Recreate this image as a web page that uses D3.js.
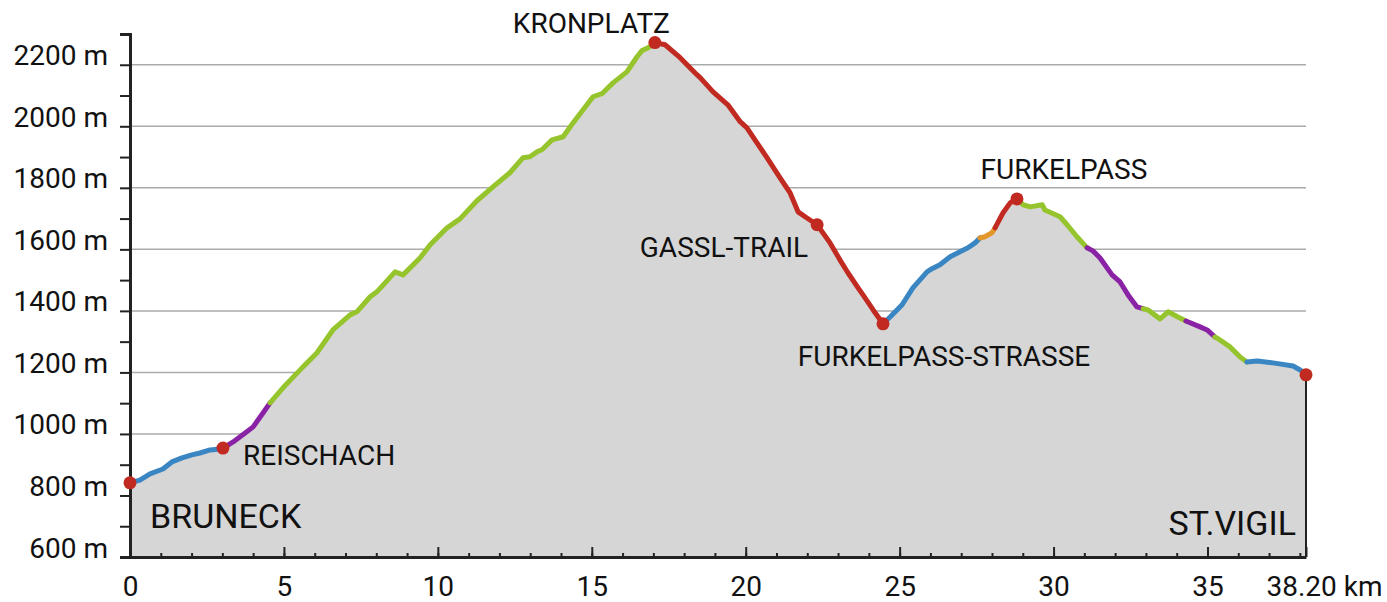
<!DOCTYPE html>
<head>
  <meta charset="utf-8">
  <script src="https://d3js.org/d3.v7.min.js"></script>
  <style>
    body { margin:0; background:#fff; }
    svg { display:block; font-family: Roboto, "Liberation Sans", sans-serif; }
    .axis text { font-size: 28px; fill: #111; font-family: Roboto, sans-serif; }
    .lbl { font-size: 28px; fill: #111; }
    .big { font-size: 34px; fill: #111; }
  </style>
</head>

<body>
  <svg width="1387" height="602"></svg>
  <script>
    // profile: distance (km) and altitude (m)
    var km = [0, 0.32, 0.65, 1.07, 1.36, 1.69, 2.01, 2.27, 2.60, 2.92, 3.02,
      3.35, 3.74, 4.00, 4.32, 4.55,
      4.97, 5.62, 6.07, 6.59, 7.15, 7.37, 7.80, 8.02, 8.61, 8.87, 9.42, 9.75,
      10.30, 10.72, 11.27, 11.79, 12.34, 12.77, 12.99, 13.22, 13.38, 13.71, 14.07,
      14.39, 15.04, 15.33, 15.69, 16.14, 16.47, 16.63, 16.83, 17.05,
      17.38, 17.87, 18.35, 18.52, 18.94, 19.42, 19.82, 20.04, 20.30, 20.69, 21.11,
      21.44, 21.70, 21.99, 22.32, 22.74, 23.06, 23.32, 23.65, 23.81, 24.14, 24.46,
      24.69, 25.08, 25.43, 25.89, 26.05, 26.31, 26.64, 26.96, 27.22, 27.45, 27.61,
      27.77, 28.00, 28.10,
      28.36, 28.59, 28.81,
      29.01, 29.24, 29.63, 29.72, 30.21, 30.44, 30.76, 31.09,
      31.28, 31.51, 31.90, 32.16, 32.42, 32.71, 32.91,
      33.07, 33.46, 33.72, 34.04, 34.30,
      34.76, 34.99, 35.24,
      35.31, 35.73, 36.06, 36.28,
      36.61, 37.13, 37.78, 38.01, 38.20];
    var elevation = [841, 850, 870, 886, 909, 922, 932, 938, 948, 951, 954,
      974, 1003, 1023, 1068, 1101,
      1150, 1218, 1263, 1338, 1387, 1397, 1446, 1462, 1527, 1517, 1572, 1615,
      1670, 1699, 1758, 1803, 1849, 1898, 1901, 1917, 1924, 1956, 1966,
      2011, 2096, 2106, 2141, 2177, 2226, 2246, 2255, 2272,
      2265, 2223, 2174, 2158, 2112, 2070, 2015, 1995, 1956, 1898, 1833,
      1784, 1722, 1702, 1680, 1621, 1566, 1524, 1475, 1452, 1403, 1358,
      1380, 1420, 1475, 1527, 1537, 1550, 1576, 1592, 1605, 1621, 1637,
      1641, 1654, 1670,
      1719, 1751, 1764,
      1745, 1738, 1745, 1728, 1706, 1680, 1641, 1605,
      1595, 1572, 1517, 1494, 1452, 1413, 1407,
      1403, 1374, 1397, 1380, 1367,
      1348, 1338, 1315,
      1312, 1283, 1250, 1234,
      1237, 1231, 1221, 1208, 1192];

    // coloured stretches of the route
    var segStart = [0, 3.02, 4.55, 17.05, 24.46, 27.61, 28.10, 28.81, 31.09, 32.91, 34.30, 35.24, 36.28];
    var segEnd   = [3.02, 4.55, 17.05, 24.46, 27.61, 28.10, 28.81, 31.09, 32.91, 34.30, 35.24, 36.28, 38.20];
    var segType  = ['road', 'track', 'path', 'trail', 'road', 'gravel', 'trail', 'path', 'track', 'path', 'track', 'path', 'road'];
    var types    = ['road', 'track', 'path', 'trail', 'gravel'];

    // named places
    var placeKm   = [0, 3.02, 17.05, 22.32, 24.46, 28.81, 38.20];
    var placeName = ['BRUNECK', 'REISCHACH', 'KRONPLATZ', 'GASSL-TRAIL', 'FURKELPASS-STRASSE', 'FURKELPASS', 'ST.VIGIL'];

    var yTicks = d3.range(600, 2301, 100);
    var xMinor = d3.range(0, 39, 1);
    var xMajor = [0, 5, 10, 15, 20, 25, 30, 35, 38.2];

    // layout
    var margin = {left: 130, right: 81, top: 34, bottom: 45};
    var width = 1387, height = 602;
    var colors = ['#3a86c2', '#8a22a6', '#96c42c', '#c12a20', '#e3962a'];
    // label placement relative to its dot: [dx, dy, anchor, class]
    var labelPos = [
      [20, 45, 'start', 'big'],
      [20, 17, 'start', 'lbl'],
      [15, -10, 'end', 'lbl'],
      [-9, 32, 'end', 'lbl'],
      [61, 42, 'middle', 'lbl'],
      [47, -20, 'middle', 'lbl'],
      [-10, 160, 'end', 'big']
    ];

    var data = km.map((d, i) => ({km: d, ele: elevation[i]}));

    var x = d3.scaleLinear().domain([0, 38.2]).range([margin.left, width - margin.right]);
    var y = d3.scaleLinear().domain([600, 2300]).range([height - margin.bottom, margin.top]);
    var color = d3.scaleOrdinal().domain(types).range(colors);

    var svg = d3.select('svg');

    // grid
    svg.append('g').selectAll('line')
      .data(d3.range(1000, 2201, 200))
      .enter().append('line')
      .attr('x1', x(0)).attr('x2', x(38.2))
      .attr('y1', d => y(d)).attr('y2', d => y(d))
      .attr('stroke', '#ababab').attr('stroke-width', 1.5);

    // area
    var area = d3.area().x(d => x(d.km)).y0(y(600)).y1(d => y(d.ele));
    svg.append('path').datum(data).attr('d', area).attr('fill', '#d6d6d6');

    svg.append('line')
      .attr('x1', x(38.2)).attr('x2', x(38.2))
      .attr('y1', y(elevation[elevation.length - 1])).attr('y2', y(600))
      .attr('stroke', '#222').attr('stroke-width', 2);

    // axes
    var yAxis = d3.axisLeft(y).tickValues(yTicks).tickSize(10).tickPadding(12)
      .tickFormat(d => (d % 200 === 0 && d <= 2200) ? d + ' m' : '');
    var gy = svg.append('g').attr('class', 'axis')
      .attr('transform', 'translate(' + x(0) + ',0)').call(yAxis);
    gy.select('.domain').attr('stroke', '#222').attr('stroke-width', 3);
    gy.selectAll('.tick line').attr('stroke', '#222').attr('stroke-width', 2);
    gy.selectAll('text').attr('dy', 0).attr('font-size', 28);

    var xMin = d3.axisBottom(x).tickValues(xMinor).tickSize(-4).tickSizeOuter(0).tickFormat('');
    var gxm = svg.append('g').attr('transform', 'translate(0,' + y(600) + ')').call(xMin);
    gxm.select('.domain').attr('stroke', '#222').attr('stroke-width', 3);
    gxm.selectAll('.tick line').attr('stroke', '#222').attr('stroke-width', 2);

    var xAxis = d3.axisBottom(x).tickValues(xMajor).tickSize(-10).tickSizeOuter(0).tickPadding(19)
      .tickFormat(d => d === 38.2 ? '38.20 km' : d);
    var gx = svg.append('g').attr('class', 'axis')
      .attr('transform', 'translate(0,' + y(600) + ')').call(xAxis);
    gx.select('.domain').remove();
    gx.selectAll('.tick line').attr('stroke', '#222').attr('stroke-width', 2);
    gx.selectAll('text').attr('font-size', 28)
      .filter(d => d === 38.2).attr('text-anchor', 'end').attr('dx', 76);

    // coloured route
    var line = d3.line().x(d => x(d.km)).y(d => y(d.ele));
    segStart.forEach((s, i) => {
      var pts = data.filter(d => d.km >= s - 1e-6 && d.km <= segEnd[i] + 1e-6);
      svg.append('path').datum(pts).attr('d', line)
        .attr('fill', 'none')
        .attr('stroke', color(segType[i]))
        .attr('stroke-width', 5)
        .attr('stroke-linejoin', 'round')
        .attr('stroke-linecap', 'round');
    });

    // places
    var eleAt = k => elevation[km.indexOf(k)];
    svg.append('g').selectAll('circle')
      .data(placeKm)
      .enter().append('circle')
      .attr('cx', d => x(d)).attr('cy', d => y(eleAt(d)))
      .attr('r', 6.5).attr('fill', '#c12a20');

    svg.append('g').selectAll('text')
      .data(placeKm)
      .enter().append('text')
      .attr('class', (d, i) => labelPos[i][3])
      .attr('x', (d, i) => x(d) + labelPos[i][0])
      .attr('y', (d, i) => y(eleAt(d)) + labelPos[i][1])
      .attr('text-anchor', (d, i) => labelPos[i][2])
      .text((d, i) => placeName[i]);
  </script>
</body>
